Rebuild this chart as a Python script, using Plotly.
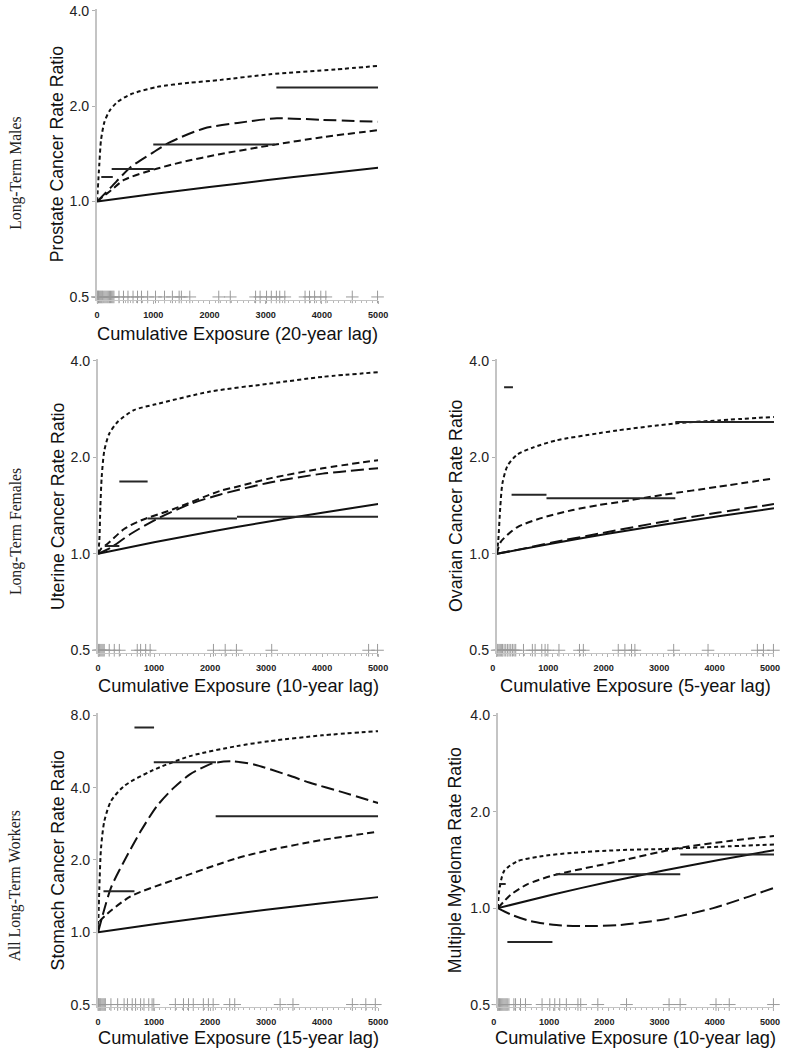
import math
import plotly.graph_objects as go

W, H = 790, 1050
# the photographed page comes out slightly reduced; positions below are given in
# photo pixels and mapped back to page pixels
SC, DX, DY = 0.9887, 1.0, 5.3

# ---------------- DATA ----------------
tick_x = [0, 1000, 2000, 3000, 4000, 5000]

# Prostate (20-year lag)
pro_lin_x = [0, 1000, 2000, 3000, 4000, 5000]
pro_lin_y = [1.0, 1.056, 1.111, 1.167, 1.222, 1.278]
pro_short_x = [0, 40, 70, 130, 220, 360, 600, 1070, 1650, 2200, 3075, 4240, 5000]
pro_short_y = [1.0, 1.31, 1.56, 1.78, 1.93, 2.06, 2.18, 2.30, 2.37, 2.42, 2.52, 2.61, 2.68]
pro_med_x = [0, 100, 250, 480, 1000, 1500, 2180, 3140, 4000, 5000]
pro_med_y = [1.0, 1.035, 1.085, 1.17, 1.26, 1.33, 1.41, 1.51, 1.595, 1.68]
pro_long_x = [0, 250, 600, 1000, 1300, 1900, 2500, 3200, 4000, 5000]
pro_long_y = [1.0, 1.11, 1.285, 1.43, 1.54, 1.70, 1.77, 1.83, 1.81, 1.785]
pro_cat_start = [75, 260, 1000, 3190]
pro_cat_end = [280, 1010, 3160, 5000]
pro_cat_rr = [1.195, 1.266, 1.512, 2.29]
pro_rug = [5, 15, 25, 40, 55, 70, 85, 100, 120, 140, 160, 180, 200, 220, 240, 260, 280, 300,
           390, 470, 550, 640, 720, 790, 900, 1040, 1200, 1340, 1460, 1500, 1650, 2165, 2370,
           2820, 2900, 3015, 3100, 3190, 3250, 3340, 3700, 3780, 3870, 3980, 4070, 4540, 4990]

# Uterine (10-year lag)
ute_lin_x = [0, 1000, 2000, 3000, 4000, 5000]
ute_lin_y = [1.0, 1.086, 1.172, 1.258, 1.344, 1.43]
ute_short_x = [0, 23, 41, 65, 112, 200, 348, 640, 1030, 2000, 3070, 4010, 5000]
ute_short_y = [1.0, 1.10, 1.40, 1.735, 2.10, 2.37, 2.58, 2.81, 2.93, 3.21, 3.40, 3.57, 3.69]
ute_med_x = [0, 60, 170, 465, 760, 1350, 2170, 2480, 3070, 4010, 5000]
ute_med_y = [1.0, 1.04, 1.075, 1.195, 1.27, 1.38, 1.57, 1.62, 1.72, 1.85, 1.96]
ute_long_x = [0, 230, 580, 1050, 1640, 2170, 3070, 4010, 5000]
ute_long_y = [1.0, 1.046, 1.153, 1.285, 1.43, 1.53, 1.67, 1.78, 1.85]
ute_cat_start = [120, 380, 885, 2480]
ute_cat_end = [380, 885, 2480, 5000]
ute_cat_rr = [1.057, 1.683, 1.288, 1.306]
ute_rug = [5, 15, 30, 50, 70, 90, 110, 200, 290, 380, 700, 760, 850, 930,
           2060, 2270, 2470, 3100, 4830, 4990]

# Ovarian (5-year lag)
ova_lin_x = [0, 1000, 2000, 3000, 4000, 5000]
ova_lin_y = [1.0, 1.077, 1.155, 1.232, 1.31, 1.387]
ova_short_x = [0, 25, 60, 100, 190, 365, 660, 1070, 1840, 2190, 3190, 4000, 5000]
ova_short_y = [1.0, 1.10, 1.39, 1.66, 1.88, 2.04, 2.15, 2.26, 2.38, 2.43, 2.55, 2.61, 2.676]
ova_med_x = [0, 70, 365, 780, 1370, 1840, 2190, 3020, 4000, 5000]
ova_med_y = [1.0, 1.09, 1.21, 1.29, 1.37, 1.42, 1.45, 1.53, 1.62, 1.72]
ova_long_x = [0, 500, 1000, 2000, 3000, 4000, 5000]
ova_long_y = [1.0, 1.04, 1.085, 1.17, 1.26, 1.345, 1.43]
ova_cat_start = [130, 265, 895, 3220]
ova_cat_end = [290, 895, 3220, 5000]
ova_cat_rr = [3.31, 1.53, 1.49, 2.58]
ova_rug = [5, 20, 40, 60, 80, 100, 130, 160, 190, 220, 250, 280, 310, 340, 480, 640, 690,
           810, 870, 920, 1120, 1490, 1560, 2190, 2310, 2430, 2490, 3190, 3810, 4700, 4810, 4990]

# Stomach (15-year lag)
sto_lin_x = [0, 1000, 2000, 3000, 4000, 5000]
sto_lin_y = [1.0, 1.08, 1.16, 1.24, 1.32, 1.40]
sto_short_x = [0, 23, 53, 112, 230, 465, 940, 1640, 2470, 3070, 4000, 5000]
sto_short_y = [1.0, 1.53, 2.24, 2.90, 3.51, 4.06, 4.68, 5.41, 5.95, 6.25, 6.6, 6.87]
sto_med_x = [0, 20, 140, 580, 1350, 2470, 3070, 4000, 5000]
sto_med_y = [1.0, 1.10, 1.18, 1.41, 1.65, 2.03, 2.20, 2.42, 2.62]
sto_long_x = [0, 230, 465, 760, 1050, 1350, 1640, 2050, 2400, 2800, 3400, 3770, 4360, 5000]
sto_long_y = [1.0, 1.53, 1.975, 2.63, 3.35, 3.99, 4.54, 5.05, 5.15, 4.98, 4.5, 4.2, 3.83, 3.45]
sto_cat_start = [97, 650, 995, 2100]
sto_cat_end = [650, 1000, 2105, 5000]
sto_cat_rr = [1.48, 7.12, 5.1, 3.04]
sto_rug = [0, 10, 20, 35, 50, 70, 90, 110, 130, 230, 350, 465, 525, 610, 670, 760, 820, 905,
           965, 995, 1380, 1525, 1615, 1700, 1880, 1970, 2055, 2350, 2440, 3250, 3480,
           4540, 4780, 4950]

# Multiple myeloma (10-year lag)
mye_lin_x = [0, 1000, 2000, 3000, 4000, 5000]
mye_lin_y = [1.0, 1.103, 1.207, 1.31, 1.414, 1.517]
mye_short_x = [0, 23, 112, 350, 760, 1350, 2180, 3010, 4000, 5000]
mye_short_y = [1.0, 1.13, 1.305, 1.40, 1.45, 1.488, 1.517, 1.53, 1.555, 1.58]
mye_med_x = [0, 230, 530, 1000, 2180, 3300, 4190, 5000]
mye_med_y = [1.0, 1.10, 1.186, 1.265, 1.40, 1.543, 1.62, 1.68]
mye_long_x = [0, 230, 585, 1060, 1650, 2180, 3010, 3900, 4500, 5000]
mye_long_y = [1.0, 0.956, 0.911, 0.885, 0.879, 0.885, 0.922, 1.0, 1.08, 1.157]
mye_cat_start = [23, 172, 1046, 3303]
mye_cat_end = [142, 988, 3303, 5000]
mye_cat_rr = [1.19, 0.784, 1.275, 1.47]
mye_rug = [0, 15, 30, 50, 70, 90, 110, 130, 150, 170, 200, 290, 320, 410, 500, 800, 940,
           1030, 1120, 1240, 1450, 1500, 1810, 2330, 3100, 3300, 3950, 4190, 4990]

row_labels = ["Long-Term Males", "Long-Term Females", "All Long-Term Workers"]

# ---------------- PANEL LAYOUT (photo pixels) ----------------
panels = [
    dict(key="1", x0=92, x1=376, ytop=10, ybot=296, ymax=4.0, shift=0,
         ytitle="Prostate Cancer Rate Ratio", xtitle="Cumulative Exposure (20-year lag)",
         ytx=51, xty=333,
         lin=(pro_lin_x, pro_lin_y), short=(pro_short_x, pro_short_y),
         med=(pro_med_x, pro_med_y), long=(pro_long_x, pro_long_y),
         cat=(pro_cat_start, pro_cat_end, pro_cat_rr), rug=pro_rug),
    dict(key="2", x0=93, x1=376, ytop=360, ybot=649, ymax=4.0, shift=0,
         ytitle="Uterine Cancer Rate Ratio", xtitle="Cumulative Exposure (10-year lag)",
         ytx=52, xty=685,
         lin=(ute_lin_x, ute_lin_y), short=(ute_short_x, ute_short_y),
         med=(ute_med_x, ute_med_y), long=(ute_long_x, ute_long_y),
         cat=(ute_cat_start, ute_cat_end, ute_cat_rr), rug=ute_rug),
    dict(key="3", x0=496, x1=776, ytop=360, ybot=649, ymax=4.0, shift=-4,
         ytitle="Ovarian Cancer Rate Ratio", xtitle="Cumulative Exposure (5-year lag)",
         ytx=454, xty=685,
         lin=(ova_lin_x, ova_lin_y), short=(ova_short_x, ova_short_y),
         med=(ova_med_x, ova_med_y), long=(ova_long_x, ova_long_y),
         cat=(ova_cat_start, ova_cat_end, ova_cat_rr), rug=ova_rug),
    dict(key="4", x0=93, x1=376, ytop=714, ybot=1003, ymax=8.0, shift=0,
         ytitle="Stomach Cancer Rate Ratio", xtitle="Cumulative Exposure (15-year lag)",
         ytx=52, xty=1036,
         lin=(sto_lin_x, sto_lin_y), short=(sto_short_x, sto_short_y),
         med=(sto_med_x, sto_med_y), long=(sto_long_x, sto_long_y),
         cat=(sto_cat_start, sto_cat_end, sto_cat_rr), rug=sto_rug),
    dict(key="5", x0=497, x1=776, ytop=714, ybot=1003, ymax=4.0, shift=-4,
         ytitle="Multiple Myeloma Rate Ratio", xtitle="Cumulative Exposure (10-year lag)",
         ytx=454, xty=1036,
         lin=(mye_lin_x, mye_lin_y), short=(mye_short_x, mye_short_y),
         med=(mye_med_x, mye_med_y), long=(mye_long_x, mye_long_y),
         cat=(mye_cat_start, mye_cat_end, mye_cat_rr), rug=mye_rug),
]


def px_page(t):
    return (t - DX) / SC


def py_page(t):
    return (t - DY) / SC


def fx(t):
    return min(1.0, max(0.0, px_page(t) / W))


def fy(t):
    return min(1.0, max(0.0, 1 - py_page(t) / H))


def fs(v):
    return v / SC


SANS = "Liberation Sans, Arial, sans-serif"
SERIF = "Liberation Serif, Times New Roman, serif"
AXIS_GRAY = "#c4c4c4"

fig = go.Figure()
layout = dict(width=W, height=H, margin=dict(l=0, r=0, t=0, b=0),
              paper_bgcolor="white", plot_bgcolor="white", showlegend=False,
              annotations=[])

for p in panels:
    k = p["key"]
    xa = "x" if k == "1" else "x" + k
    ya = "y" if k == "1" else "y" + k
    lo = math.log10(0.5)
    hi = math.log10(p["ymax"])
    top_pg, bot_pg = py_page(p["ytop"]), py_page(p["ybot"])
    ppu = (bot_pg - top_pg) / (hi - lo)
    pad_t, pad_b = min(2.0, top_pg), 3.0
    yr = [lo - pad_b / ppu, hi + pad_t / ppu]
    ydom = [max(0.0, 1 - (bot_pg + pad_b) / H), min(1.0, 1 - (top_pg - pad_t) / H)]
    xdom = [fx(p["x0"]), fx(p["x1"])]

    def line(xy, dash, width=2.0, color="#111"):
        fig.add_trace(go.Scatter(x=xy[0], y=xy[1], mode="lines", xaxis=xa, yaxis=ya,
                                 line=dict(color=color, width=width, dash=dash,
                                           shape="spline", smoothing=0.7),
                                 hoverinfo="skip"))

    line(p["lin"], "solid")
    line(p["short"], "4px,3px")
    line(p["med"], "7px,4px")
    line(p["long"], "13px,5px")

    cs, ce, cr = p["cat"]
    sx, sy = [], []
    for a, b, r in zip(cs, ce, cr):
        sx += [a, b, None]
        sy += [r, r, None]
    fig.add_trace(go.Scatter(x=sx, y=sy, mode="lines", xaxis=xa, yaxis=ya,
                             line=dict(color="#262626", width=2), hoverinfo="skip"))

    fig.add_trace(go.Scatter(x=p["rug"], y=[0.5] * len(p["rug"]), mode="markers",
                             xaxis=xa, yaxis=ya, cliponaxis=False,
                             marker=dict(symbol="cross-thin", size=9,
                                         line=dict(width=1, color="#9a9a9a")),
                             hoverinfo="skip"))

    ytv = [0.5, 1, 2, 4] + ([8] if p["ymax"] >= 8 else [])
    ytt = ["%.1f" % v for v in ytv]
    xax = dict(
        domain=xdom, range=[0, 5000], anchor=ya, showgrid=False, zeroline=False,
        showline=True, linecolor=AXIS_GRAY, linewidth=1,
        ticks="outside", ticklen=3, tickcolor="#b0b0b0", tickwidth=1,
        tickvals=tick_x, ticktext=[str(v) for v in tick_x],
        tickfont=dict(family=SANS, size=fs(9), color="#222", weight="bold"),
        ticklabelstandoff=3,
        minor=dict(dtick=100, ticks="outside", ticklen=2, tickcolor="#b8b8b8", showgrid=False),
    )
    if p["shift"]:
        xax["ticklabelshift"] = p["shift"]
    layout["xaxis" if k == "1" else "xaxis" + k] = xax
    layout["yaxis" if k == "1" else "yaxis" + k] = dict(
        domain=ydom, type="log", range=yr, anchor=xa, showgrid=False, zeroline=False,
        showline=True, linecolor=AXIS_GRAY, linewidth=2,
        ticks="outside", ticklen=3, tickcolor="#b0b0b0", tickwidth=1,
        tickvals=ytv, ticktext=ytt,
        tickfont=dict(family=SANS, size=fs(14), color="#222"),
    )
    layout["annotations"].append(dict(
        text=p["ytitle"], textangle=-90, showarrow=False, xref="paper", yref="paper",
        x=fx(p["ytx"]), y=fy((p["ytop"] + p["ybot"]) / 2),
        xanchor="center", yanchor="middle",
        font=dict(family=SANS, size=fs(17.5), color="#111")))
    layout["annotations"].append(dict(
        text=p["xtitle"], showarrow=False, xref="paper", yref="paper",
        x=fx((p["x0"] + p["x1"]) / 2), y=fy(p["xty"]),
        xanchor="center", yanchor="middle",
        font=dict(family=SANS, size=fs(18), color="#111")))

for lab, yc in zip(row_labels, [172, 530, 884]):
    layout["annotations"].append(dict(
        text=lab, textangle=-90, showarrow=False, xref="paper", yref="paper",
        x=fx(10), y=fy(yc), xanchor="center", yanchor="middle",
        font=dict(family=SERIF, size=fs(15.5), color="#222")))

fig.update_layout(**layout)

pin_to_corner = (
    "var gd=document.getElementById('{plot_id}');"
    "gd.style.position='fixed';gd.style.left='0px';gd.style.top='0px';"
    "document.body.style.margin='0';"
    "document.documentElement.style.overflow='hidden';"
    "document.body.style.overflow='hidden';"
)
fig.write_html("out.html", config={"displayModeBar": False}, post_script=pin_to_corner)
